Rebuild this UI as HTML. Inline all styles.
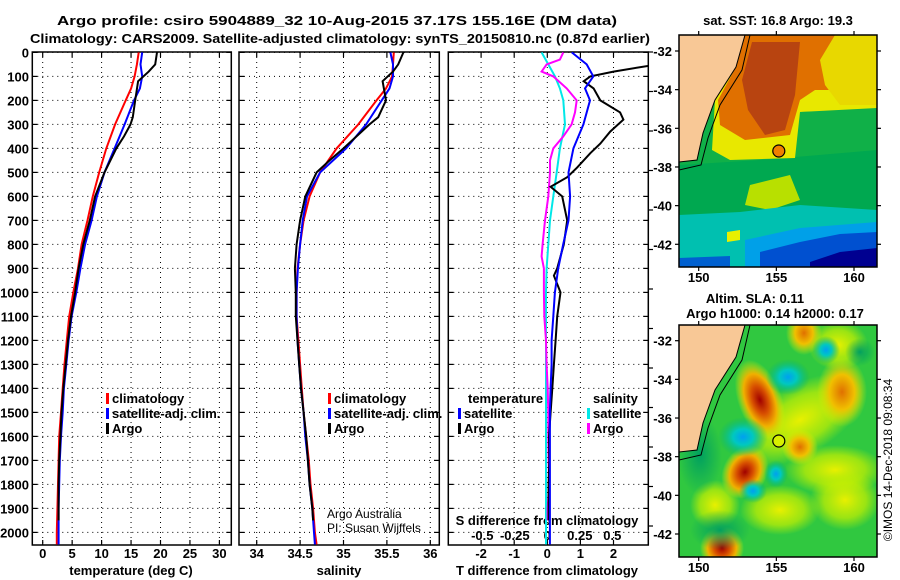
<!DOCTYPE html>
<html><head><meta charset="utf-8"><title>Argo profile</title>
<style>
html,body{margin:0;padding:0;background:#fff;}
svg{display:block;font-family:"Liberation Sans",Arial,sans-serif;}
.b{font-weight:bold;font-size:13px;fill:#000;}
</style></head>
<body>
<svg id="chart" width="900" height="580" viewBox="0 0 900 580" xmlns="http://www.w3.org/2000/svg">
<defs>
<clipPath id="cm1"><rect x="679" y="35" width="198" height="232"/></clipPath>
<clipPath id="cm2"><rect x="679" y="325" width="198" height="232"/></clipPath>
<clipPath id="cp1"><rect x="32.3" y="52" width="199" height="493"/></clipPath>
<clipPath id="cp2"><rect x="239" y="52" width="200.3" height="493"/></clipPath>
<clipPath id="cp3"><rect x="448.3" y="52" width="200" height="493"/></clipPath>
<radialGradient id="gRed"><stop offset="0" stop-color="#a00000"/><stop offset="0.35" stop-color="#d85000"/><stop offset="0.65" stop-color="#f0b000"/><stop offset="1" stop-color="#e0f000" stop-opacity="0"/></radialGradient>
<radialGradient id="gOr"><stop offset="0" stop-color="#e07000"/><stop offset="0.5" stop-color="#f0c000"/><stop offset="1" stop-color="#e0f000" stop-opacity="0"/></radialGradient>
<radialGradient id="gYe"><stop offset="0" stop-color="#e8f000"/><stop offset="0.6" stop-color="#c8f000" stop-opacity="0.7"/><stop offset="1" stop-color="#c0f000" stop-opacity="0"/></radialGradient>
<radialGradient id="gCy"><stop offset="0" stop-color="#00a0f0"/><stop offset="0.4" stop-color="#00c8c0"/><stop offset="1" stop-color="#00b070" stop-opacity="0"/></radialGradient>
<radialGradient id="gDg"><stop offset="0" stop-color="#00a060"/><stop offset="1" stop-color="#00a060" stop-opacity="0"/></radialGradient>
</defs>

<text class="b" x="337" y="25" text-anchor="middle" textLength="560" lengthAdjust="spacingAndGlyphs">Argo profile: csiro 5904889_32 10-Aug-2015 37.17S 155.16E (DM data)</text>
<text class="b" x="340" y="43" text-anchor="middle" textLength="620" lengthAdjust="spacingAndGlyphs">Climatology: CARS2009. Satellite-adjusted climatology: synTS_20150810.nc (0.87d earlier)</text>

<!-- SST map -->
<g>
<g clip-path="url(#cm1)">
<rect x="679" y="35" width="198" height="232" fill="#10b048"/>
<polygon points="679,165 760,160 877,150 877,210 800,215 740,220 679,225" fill="#00a850"/>
<polygon points="750,185 790,175 800,200 770,210 745,205" fill="#b8e000"/>
<polygon points="679,215 740,212 800,205 877,210 877,267 679,267" fill="#00c0b0"/>
<polygon points="745,240 800,228 877,222 877,267 745,267" fill="#00a0e8"/>
<polygon points="760,252 800,242 840,234 877,232 877,267 760,267" fill="#0050d0"/>
<polygon points="810,262 840,252 877,248 877,267 810,267" fill="#000090"/>
<polygon points="679,258 730,256 730,267 679,267" fill="#0060d0"/>
<polygon points="727,232 740,230 740,240 727,242" fill="#e8f000"/>
<polygon points="715,100 736,67 745,35 877,35 877,110 800,112 795,158 730,160 712,150" fill="#e8e800"/>
<polygon points="745,35 877,35 877,60 850,90 815,90 800,100 790,135 745,140 720,125 718,100 736,67" fill="#e07000"/>
<polygon points="835,35 877,35 877,105 840,105 825,85 820,60" fill="#e8d800"/>
<polygon points="752,42 800,42 795,95 785,130 765,135 748,110 742,80" fill="#b84410"/>
<polygon points="800,112 877,108 877,150 800,150" fill="#10b048"/>
<polygon points="679,35 745,35 736,67 715,100 703,133 697,160 679,162" fill="#f8c896"/>
<polyline points="745,35 736,67 715,100 703,133 697,160 679,162" fill="none" stroke="#000" stroke-width="1"/>
<polyline points="750,35 742,70 720,105 708,138 701,165 679,170" fill="none" stroke="#000" stroke-width="1"/>
</g>
<rect x="679" y="35" width="198" height="232" fill="none" stroke="#000" stroke-width="1.5"/>
<circle cx="778.8" cy="151" r="6" fill="#f08000" stroke="#000" stroke-width="1.2"/>
</g>
<text class="b" x="778" y="25" text-anchor="middle">sat. SST: 16.8 Argo: 19.3</text>

<!-- SLA map -->
<g>
<g clip-path="url(#cm2)">
<rect x="679" y="325" width="198" height="232" fill="#30c840"/>
<ellipse cx="800" cy="420" rx="70" ry="35" fill="url(#gYe)" transform="rotate(-30 800 420)"/>
<ellipse cx="835" cy="470" rx="50" ry="25" fill="url(#gYe)"/>
<ellipse cx="845" cy="500" rx="35" ry="30" fill="url(#gYe)"/>
<ellipse cx="780" cy="510" rx="40" ry="25" fill="url(#gYe)"/>
<ellipse cx="715" cy="505" rx="25" ry="25" fill="url(#gYe)"/>
<ellipse cx="838" cy="345" rx="30" ry="25" fill="url(#gYe)"/>
<ellipse cx="760" cy="400" rx="22" ry="42" fill="url(#gRed)" transform="rotate(-20 760 400)"/>
<ellipse cx="745" cy="472" rx="22" ry="28" fill="url(#gRed)" transform="rotate(30 745 472)"/>
<ellipse cx="722" cy="548" rx="22" ry="22" fill="url(#gRed)"/>
<ellipse cx="842" cy="392" rx="25" ry="35" fill="url(#gOr)"/>
<ellipse cx="804" cy="333" rx="18" ry="22" fill="url(#gOr)"/>
<ellipse cx="800" cy="447" rx="18" ry="18" fill="url(#gOr)"/>
<ellipse cx="743" cy="437" rx="25" ry="20" fill="url(#gCy)"/>
<ellipse cx="788" cy="377" rx="22" ry="18" fill="url(#gCy)"/>
<ellipse cx="826" cy="350" rx="14" ry="14" fill="url(#gCy)"/>
<ellipse cx="776" cy="474" rx="12" ry="14" fill="url(#gCy)"/>
<ellipse cx="753" cy="491" rx="14" ry="12" fill="url(#gCy)"/>
<ellipse cx="860" cy="352" rx="15" ry="14" fill="url(#gDg)"/>
<ellipse cx="700" cy="455" rx="22" ry="40" fill="url(#gDg)"/>
<ellipse cx="720" cy="530" rx="30" ry="20" fill="url(#gDg)"/>
<polygon points="679,325 745,325 736,357 715,390 703,423 697,450 679,452" fill="#f8c896"/>
<polyline points="745,325 736,357 715,390 703,423 697,450 679,452" fill="none" stroke="#000" stroke-width="1"/>
<polyline points="750,325 742,360 720,395 708,428 701,455 679,460" fill="none" stroke="#000" stroke-width="1"/>
</g>
<rect x="679" y="325" width="198" height="232" fill="none" stroke="#000" stroke-width="1.5"/>
<circle cx="778.8" cy="441" r="6" fill="#d8f000" stroke="#000" stroke-width="1.2"/>
</g>
<text class="b" x="755" y="303" text-anchor="middle">Altim. SLA: 0.11</text>
<text class="b" x="775" y="318" text-anchor="middle">Argo h1000: 0.14 h2000: 0.17</text>
<text x="892" y="460" font-size="12" text-anchor="middle" transform="rotate(-90 892 460)">©IMOS 14-Dec-2018 09:08:34</text>

<g id="plots"></g>
</svg>

<script>
// ---------- data ----------
var tDepth = [0,50,100,150,200,300,400,500,600,700,800,900,1000,1100,1200,1300,1400,1500,1600,1700,1800,1900,2000,2050];
var argoDepth = [0,50,80,120,200,270,300,350,400,450,500,600,700,800,900,1000,1100,1200,1300,1400,1500,1600,1700,1800,1900,1950];
var tClim = [16.3,16.0,15.6,15.0,14.1,12.3,10.8,9.6,8.5,7.6,6.6,6.0,5.2,4.5,4.1,3.7,3.4,3.1,2.8,2.7,2.6,2.5,2.4,2.4];
var tSat = [16.9,16.6,16.9,16.5,15.5,13.9,12.2,10.5,9.2,8.3,7.2,6.4,5.7,4.9,4.4,4.0,3.6,3.4,3.1,2.9,2.8,2.7,2.7,2.7];
var tArgo = [19.4,19.1,18.0,16.2,15.7,15.3,14.9,13.8,12.5,11.5,10.5,8.9,8.0,6.9,6.1,5.5,4.8,4.3,3.9,3.5,3.2,3.0,2.8,2.7,2.7,2.7];
var sClim = [35.58,35.57,35.56,35.49,35.38,35.17,34.92,34.73,34.61,34.54,34.50,34.47,34.46,34.46,34.48,34.50,34.52,34.54,34.57,34.60,34.62,34.65,34.67,34.69];
var sSat = [35.54,35.57,35.57,35.53,35.44,35.26,35.03,34.73,34.58,34.53,34.50,34.475,34.46,34.46,34.47,34.49,34.51,34.54,34.56,34.59,34.61,34.64,34.66,34.67];
var sArgo = [35.69,35.63,35.57,35.45,35.49,35.40,35.30,35.15,35.0,34.84,34.69,34.56,34.50,34.46,34.44,34.45,34.45,34.47,34.49,34.51,34.54,34.57,34.59,34.61,34.64,34.65];
var dtArgoDepth = [0,56,80,100,120,150,200,250,280,330,380,420,480,520,560,600,700,800,900,930,1000,1100,1200,1300,1400,1500,1600,1700,1800,1950];
var dtArgo = [3.5,3.06,2.0,1.3,1.1,1.4,1.6,2.2,2.3,1.9,1.6,1.3,0.9,0.6,0.1,0.45,0.6,0.5,0.3,0.2,0.4,0.3,0.25,0.2,0.15,0.1,0.05,0.06,0.04,0.04];
var dtSat = [0.74,1.19,1.39,1.14,1.29,1.09,0.79,0.64,0.69,0.64,0.48,0.33,0.23,0.18,0.13,0.13,0.10,0.08,0.08,0.08,0.08,0.08,0.08,0.08];
var dsSat = [-0.044,0.008,0.059,0.097,0.123,0.136,0.097,0.072,0.046,0.021,0.008,-0.005,-0.01,-0.01,-0.01,-0.01,-0.01,-0.01,-0.01,-0.01,-0.01,-0.01,-0.01,-0.01];
var dsArgoDepth = [0,30,50,80,100,150,200,250,300,350,400,450,500,600,700,800,850,900,1000,1100,1200,1300,1400,1500,1600,1700,1800,1900,1950];
var dsArgo = [0.123,0.097,-0.005,-0.044,0.046,0.149,0.226,0.213,0.187,0.123,0.046,0.021,0.021,0.008,-0.018,-0.036,-0.044,-0.026,-0.026,-0.023,-0.01,-0.005,0.003,0.008,0.008,0.01,0.013,0.003,0.003];
var depthTicks = [0,100,200,300,400,500,600,700,800,900,1000,1100,1200,1300,1400,1500,1600,1700,1800,1900,2000];
var tTicks = [0,5,10,15,20,25,30];
var sTicks = [34,34.5,35,35.5,36];
var dtTicks = [-2,-1,0,1,2];
var dsTicks = [-0.5,-0.25,0,0.25,0.5];
var dsTickLabels = ['-0.5','-0.25','0','0.25','0.5'];
var mapLonTicks = [150,155,160];
var mapLatTicks = [-32,-34,-36,-38,-40,-42];

// ---------- scales ----------
var NS = 'http://www.w3.org/2000/svg';
var TOP = 52, BOT = 545;
function yD(d){ return 52.4 + 0.24 * d; }
function xT(t){ return 42.7 + 5.89 * t; }
function xS(s){ return 256.7 + 86.8 * (s - 34); }
function xDT(d){ return 547.3 + 33.1 * d; }
function xDS(d){ return 547.3 + 130 * d; }
function xLon(l){ return 698.7 + 15.53 * (l - 150); }
function yLat1(l){ return 51 + 19.33 * (-32 - l); }
function yLat2(l){ return 340.7 + 19.33 * (-32 - l); }
var root = document.getElementById('plots');
function mk(tag, attrs, parent){
  var el = document.createElementNS(NS, tag);
  for (var k in attrs) el.setAttribute(k, attrs[k]);
  (parent || root).appendChild(el);
  return el;
}
function txt(x, y, s, anchor, cls){
  var t = mk('text', {x:x, y:y, 'text-anchor':anchor || 'middle', 'class':cls || 'b'});
  t.textContent = s;
  return t;
}

var panels = [
  {x0:32.3, x1:231.3, clip:'cp1', name:'temperature-panel'},
  {x0:239, x1:439.3, clip:'cp2', name:'salinity-panel'},
  {x0:448.3, x1:648.3, clip:'cp3', name:'difference-panel'}
];
var xFns = [xT, xS, xDT];
var xTickSets = [tTicks, sTicks, dtTicks];

panels.forEach(function(p, i){
  var g = mk('g', {});
  
  
  depthTicks.forEach(function(d){
    var y = yD(d);
    var l = mk('line', {x1:p.x0, x2:p.x1, y1:y, y2:y, stroke:'#000', 'stroke-width':1, 'stroke-dasharray':'1 4'}, g);
    
    
    mk('line', {x1:p.x0, x2:p.x0+5, y1:y, y2:y, stroke:'#000', 'stroke-width':1.2}, g);
    mk('line', {x1:p.x1-5, x2:p.x1, y1:y, y2:y, stroke:'#000', 'stroke-width':1.2}, g);
  });
  xTickSets[i].forEach(function(v){
    var x = xFns[i](v);
    var l = mk('line', {x1:x, x2:x, y1:TOP, y2:BOT, stroke:'#000', 'stroke-width':1, 'stroke-dasharray':'1 4'}, g);
    
    
    mk('line', {x1:x, x2:x, y1:TOP, y2:TOP+5, stroke:'#000', 'stroke-width':1.2}, g);
    mk('line', {x1:x, x2:x, y1:BOT-5, y2:BOT, stroke:'#000', 'stroke-width':1.2}, g);
    var t = txt(x, 558, String(v));
    
    
  });
  var fr = mk('rect', {x:p.x0, y:TOP, width:p.x1-p.x0, height:BOT-TOP, fill:'none', stroke:'#000', 'stroke-width':1.5}, g);
  
  
});

depthTicks.forEach(function(d){
  var t = txt(29, yD(d) + 5, String(d), 'end');
  
  
});

for (var k = 0; k < 13; k++){
  var yy = 52 + k * 39.5;
  mk('line', {x1:648.3, x2:653, y1:yy, y2:yy, stroke:'#000', 'stroke-width':1.2});
}

var at1 = txt(131, 575, 'temperature (deg C)');


var at2 = txt(339, 575, 'salinity');


var at3 = txt(547, 575, 'T difference from climatology');


var at4 = txt(547, 525, 'S difference from climatology');


dsTicks.forEach(function(v, i){
  var t = txt(xDS(v), 540, dsTickLabels[i]);
  
  
});

function series(depths, vals, fx, color, clip, name){
  var pts = depths.map(function(d, i){ return fx(vals[i]).toFixed(1) + ',' + yD(d).toFixed(1); }).join(' ');
  var pl = mk('polyline', {points:pts, fill:'none', stroke:color, 'stroke-width':2, 'clip-path':'url(#' + clip + ')'});
  
  
}
series(tDepth, tClim, xT, '#ff0000', 'cp1', 'temperature-climatology-line');
series(tDepth, tSat, xT, '#0000ff', 'cp1', 'temperature-satellite-line');
series(argoDepth, tArgo, xT, '#000000', 'cp1', 'temperature-argo-line');
series(tDepth, sClim, xS, '#ff0000', 'cp2', 'salinity-climatology-line');
series(tDepth, sSat, xS, '#0000ff', 'cp2', 'salinity-satellite-line');
series(argoDepth, sArgo, xS, '#000000', 'cp2', 'salinity-argo-line');
series(tDepth, dsSat, xDS, '#00e8e8', 'cp3', 's-diff-satellite-line');
series(dsArgoDepth, dsArgo, xDS, '#ff00ff', 'cp3', 's-diff-argo-line');
series(dtArgoDepth, dtArgo, xDT, '#000000', 'cp3', 't-diff-argo-line');
series(tDepth, dtSat, xDT, '#0000ff', 'cp3', 't-diff-satellite-line');

function legendEntry(x, y, color, label){
  var g = mk('g', {});
  
  
  mk('rect', {x:x, y:y-10, width:3, height:11, fill:color}, g);
  var t = mk('text', {x:x+6, y:y, 'class':'b'}, g);
  t.textContent = label;
}
legendEntry(106, 403, '#ff0000', 'climatology');
legendEntry(106, 418, '#0000ff', 'satellite-adj. clim.');
legendEntry(106, 433, '#000000', 'Argo');
legendEntry(328, 403, '#ff0000', 'climatology');
legendEntry(328, 418, '#0000ff', 'satellite-adj. clim.');
legendEntry(328, 433, '#000000', 'Argo');
var lt = txt(468, 403, 'temperature', 'start');


var ls = txt(593, 403, 'salinity', 'start');


legendEntry(458, 418, '#0000ff', 'satellite');
legendEntry(458, 433, '#000000', 'Argo');
legendEntry(587, 418, '#00e8e8', 'satellite');
legendEntry(587, 433, '#ff00ff', 'Argo');
var c1 = mk('text', {x:327, y:518, 'font-size':12});
c1.textContent = 'Argo Australia';


var c2 = mk('text', {x:327, y:532, 'font-size':12});
c2.textContent = 'PI: Susan Wijffels';



[[35, 267, yLat1, 282], [325, 557, yLat2, 572]].forEach(function(m){
  mapLonTicks.forEach(function(l){
    var x = xLon(l);
    mk('line', {x1:x, x2:x, y1:m[0]-4, y2:m[0], stroke:'#000', 'stroke-width':1.2});
    mk('line', {x1:x, x2:x, y1:m[1], y2:m[1]+4, stroke:'#000', 'stroke-width':1.2});
    var t = txt(x, m[3], String(l));
    
    
  });
  mapLatTicks.forEach(function(l){
    var y = m[2](l);
    mk('line', {x1:675, x2:679, y1:y, y2:y, stroke:'#000', 'stroke-width':1.2});
    mk('line', {x1:877, x2:881, y1:y, y2:y, stroke:'#000', 'stroke-width':1.2});
    var t = txt(672, y + 5, String(l), 'end');
    
    
  });
});
</script>
</body></html>
